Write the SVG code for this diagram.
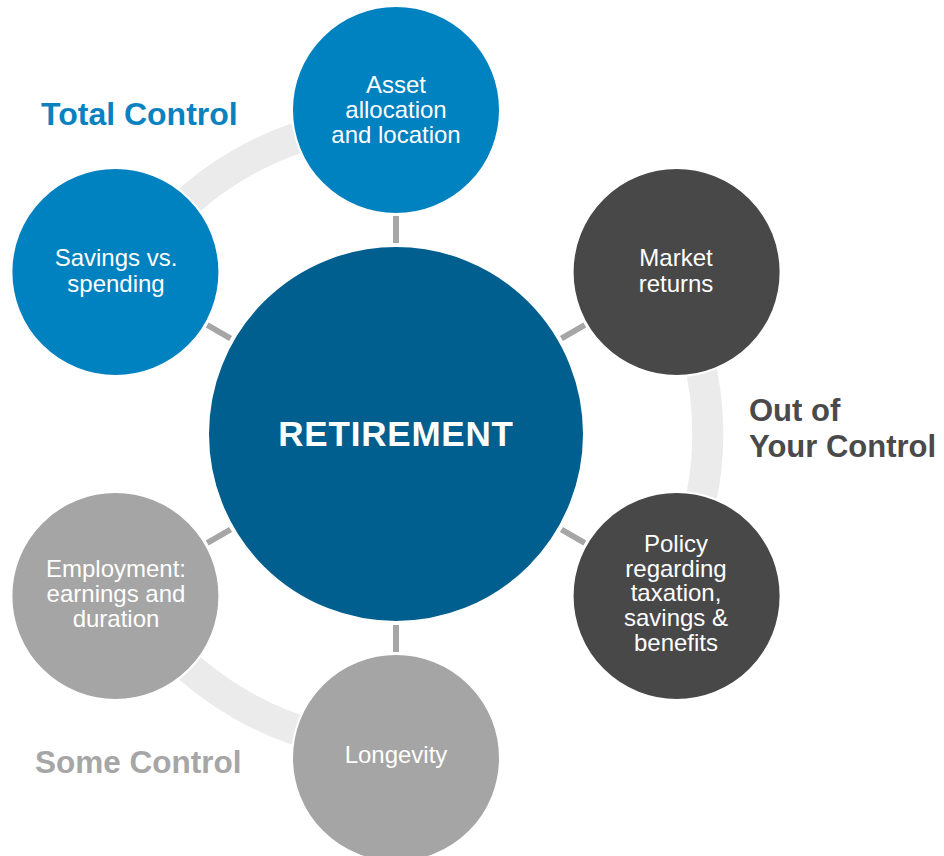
<svg xmlns="http://www.w3.org/2000/svg" width="944" height="856" viewBox="0 0 944 856">
  <style>
    .band { fill: none; stroke: #ebebeb; stroke-width: 31; }
    .link { stroke: #a6a6a6; stroke-width: 6; }
    .node { stroke: #ffffff; stroke-width: 2; }
    .blue { fill: #0081c0; }
    .dark { fill: #484848; }
    .grey { fill: #a5a5a5; }
    .core { fill: #005f8e; }
    .lbl { font-family: "Liberation Sans", Arial, sans-serif; font-size: 24px; fill: #ffffff; text-anchor: middle; }
    .title { font-family: "Liberation Sans", Arial, sans-serif; font-weight: bold; font-size: 35px; fill: #ffffff; text-anchor: middle; letter-spacing: 0.8px; }
    .group { font-family: "Liberation Sans", Arial, sans-serif; font-weight: bold; font-size: 32px; }
  </style>

  <!-- grouping bands, radius 312 around the hub -->
  <g id="bands">
    <path class="band" d="M 126 278 A 312 312 0 0 1 396 122"/>
    <path class="band" d="M 666 278 A 312 312 0 0 1 666 590"/>
    <path class="band" d="M 126 590 A 312 312 0 0 0 396 746"/>
  </g>

  <!-- spokes between hub and satellites -->
  <g id="connectors">
    <line class="link" x1="396" y1="243" x2="396" y2="216"/>
    <line class="link" x1="396" y1="625" x2="396" y2="652"/>
    <line class="link" x1="230.6" y1="338.5" x2="207.2" y2="325"/>
    <line class="link" x1="561.4" y1="338.5" x2="584.8" y2="325"/>
    <line class="link" x1="230.6" y1="529.5" x2="207.2" y2="543"/>
    <line class="link" x1="561.4" y1="529.5" x2="584.8" y2="543"/>
  </g>

  <g id="asset">
    <circle class="node blue" cx="396" cy="110" r="104"/>
    <text class="lbl" x="396"><tspan x="396" y="93">Asset</tspan><tspan x="396" y="118">allocation</tspan><tspan x="396" y="143">and location</tspan></text>
  </g>

  <g id="savings">
    <circle class="node blue" cx="115.4" cy="272" r="104"/>
    <text class="lbl"><tspan x="116" y="266">Savings vs.</tspan><tspan x="116" y="292">spending</tspan></text>
  </g>

  <g id="market">
    <circle class="node dark" cx="676.6" cy="272" r="104"/>
    <text class="lbl"><tspan x="676" y="266">Market</tspan><tspan x="676" y="292">returns</tspan></text>
  </g>

  <g id="policy">
    <circle class="node dark" cx="676.6" cy="596" r="104"/>
    <text class="lbl"><tspan x="676" y="552">Policy</tspan><tspan x="676" y="577">regarding</tspan><tspan x="676" y="601">taxation,</tspan><tspan x="676" y="626">savings &amp;</tspan><tspan x="676" y="651">benefits</tspan></text>
  </g>

  <g id="employment">
    <circle class="node grey" cx="115.4" cy="596" r="104"/>
    <text class="lbl"><tspan x="116" y="577">Employment:</tspan><tspan x="116" y="602">earnings and</tspan><tspan x="116" y="627">duration</tspan></text>
  </g>

  <g id="longevity">
    <circle class="node grey" cx="396" cy="758" r="104"/>
    <text class="lbl" x="396" y="763">Longevity</text>
  </g>

  <g id="retirement">
    <circle class="node core" cx="396" cy="434" r="188"/>
    <text class="title" x="396" y="446">RETIREMENT</text>
  </g>

  <g id="group-labels">
    <text class="group" x="41" y="125" fill="#0a82c0">Total Control</text>
    <text class="group" fill="#4a4a4a" style="font-size:31px"><tspan x="749" y="421">Out of</tspan><tspan x="749" y="457">Your Control</tspan></text>
    <text class="group" x="35" y="773" fill="#a6a6a6" style="font-size:31.5px">Some Control</text>
  </g>
</svg>
